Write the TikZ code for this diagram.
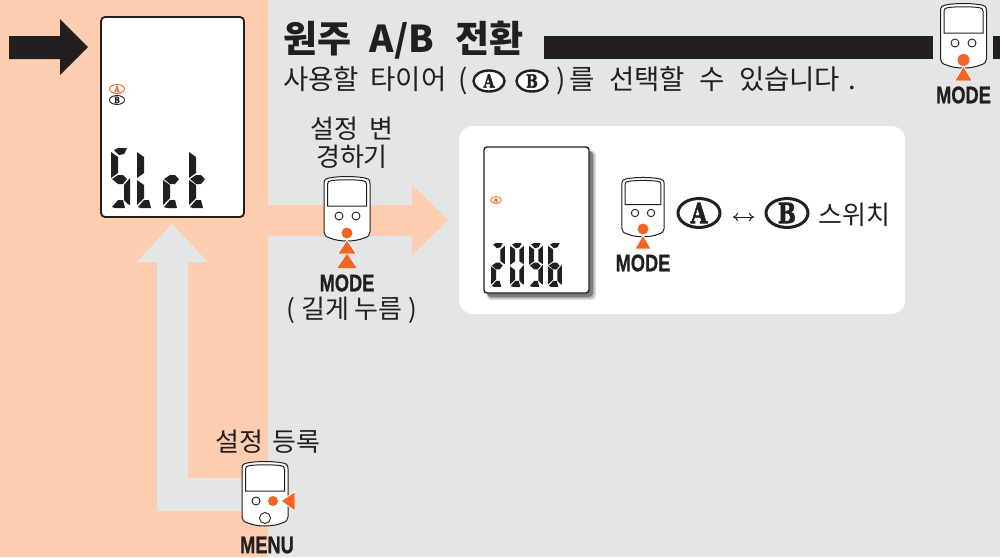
\documentclass[tikz,border=0pt]{standalone}
\usepackage{fontspec}
\usepackage{graphicx}
\usetikzlibrary{shapes.geometric,arrows.meta}
\setmainfont{Noto Sans CJK KR}
\newfontfamily\modefont[BoldFeatures={FakeBold=1}]{Liberation Sans}
\newfontfamily\ovalfont[BoldFeatures={FakeBold=2.5}]{DejaVu Serif}
\definecolor{bgorange}{HTML}{FDCDB0}
\definecolor{bggray}{HTML}{E3E5E7}
\definecolor{ink}{HTML}{231F20}
\definecolor{accent}{HTML}{F26522}
\newcommand\cond[1]{\scalebox{.76}[1]{#1}}
\newcommand\ovl[1]{\scalebox{.82}[1.08]{#1}}
\newcommand\segA{\fill (3,2)--(7,0)--(16,0)--(13,6)--(8,7)--cycle;}
\newcommand\segB{\fill (19,4)--(13,9)--(13,25)--(19,29)--cycle;}
\newcommand\segC{\fill (19,30)--(13,37)--(13,52)--(17,56)--(19,57)--cycle;}
\newcommand\segD{\fill (1,59)--(7,52)--(12,52)--(14,60)--(4,60)--cycle;}
\newcommand\segE{\fill (0,32)--(7,37)--(7,50)--(0,57)--cycle;}
\newcommand\segF{\fill (0,4)--(7,9)--(7,25)--(0,30)--cycle;}
\newcommand\segG{\fill (1,31)--(7,27)--(12,27)--(16,31)--(12,36)--(7,36)--cycle;}
\newcommand\digit[4]{\begin{scope}[shift={(#1,#2)},scale=#3,ink]#4\end{scope}}
\newcommand\device[3]{%
\begin{scope}[shift={(#1,#2)},scale=#3]
\draw[devline,fill=white] (-23,8) .. controls (-23,3) and (-21,2.5) .. (-18,2) .. controls (-8,0) and (8,0) .. (18,2) .. controls (21,2.5) and (23,3) .. (23,8) -- (23,56) .. controls (23,59) and (21,61) .. (17,62) .. controls (8,66) and (-8,66) .. (-17,62) .. controls (-21,61) and (-23,59) .. (-23,56) -- cycle;
\draw[devline,fill=white] (-19.5,30) -- (-19.5,8) .. controls (-19.5,5.5) and (-18,5) .. (-15,4.5) .. controls (-5,3.5) and (5,3.5) .. (15,4.5) .. controls (18,5) and (19.5,5.5) .. (19.5,8) -- (19.5,30) -- cycle;
\end{scope}}
\tikzset{
 devline/.style={draw=ink,line width=1pt},
 hole/.style={draw=ink,line width=.9pt,fill=white},
 press/.style={fill=accent},
 tri/.style={fill=accent,draw=white,line width=.8pt},
 label/.style={text=ink,font=\fontsize{26}{30}\selectfont,inner sep=0pt},
 sublabel/.style={text=ink,font=\fontsize{27.5}{32}\selectfont,inner sep=0pt},
 keyname/.style={text=ink,font=\modefont\bfseries\fontsize{24}{28}\selectfont,inner sep=0pt},
 oval/.style={ellipse,draw=ink,fill=white,inner sep=0pt,text=ink},
}
\begin{document}
\begin{tikzpicture}[x=1pt,y=-1pt]
\useasboundingbox (0,0) rectangle (1000,557);
\fill[bggray] (0,0) rectangle (1000,557);
\fill[bgorange] (0,0) rectangle (268,557);
% gray return arrow
\fill[bggray] (157,511)--(157,262)--(137,262)--(172,224)--(208,262)--(188,262)--(188,478)--(250,478)--(250,511)--cycle;
% orange forward arrow
\fill[bgorange] (268,205)--(412,205)--(412,185)--(448,220)--(412,255)--(412,236)--(268,236)--cycle;
% black arrow and bars
\fill[ink] (9,36)--(60,36)--(60,19)--(88,47)--(60,75)--(60,59)--(9,59)--cycle;
\fill[ink] (544,36) rectangle (933,59);
\fill[ink] (993,36) rectangle (1000,59);
% left display
\draw[draw=ink,line width=1.8pt,fill=white,rounded corners=4pt] (101,17) rectangle (244,217);
\node[oval,draw=accent,text=accent,line width=.9pt,minimum width=15pt,minimum height=9pt,font=\ovalfont\bfseries\fontsize{8}{8}\selectfont] (smallA) at (117,89) {\ovl{A}};
\node[oval,line width=.9pt,minimum width=15pt,minimum height=9pt,font=\ovalfont\bfseries\fontsize{8}{8}\selectfont] (smallB) at (117,100) {\ovl{B}};
\digit{111}{148}{1}{\segA\segF\segG\segC\segD}
\digit{137}{148}{1}{\segF\segE\segD}
\digit{163}{148}{1}{\segG\segE\segD}
\digit{189}{148}{1}{\segF\segG\segE\segD}
% title
\node[anchor=west,text=ink,inner sep=0pt,font=\bfseries\fontsize{37}{42}\selectfont] (title) at (283,40) {원주\hspace{.5em}A/B\hspace{.58em}전환};
\node[sublabel,anchor=west] (sub1) at (283,81) {\spaceskip=.42em\relax 사용할 타이어 (};
\node[oval,line width=2.4pt,minimum width=31pt,minimum height=21pt,font=\ovalfont\bfseries\fontsize{17}{17}\selectfont] (subA) at (489,81) {\ovl{A}};
\node[oval,line width=2.4pt,minimum width=31pt,minimum height=21pt,font=\ovalfont\bfseries\fontsize{17}{17}\selectfont] (subB) at (532,81) {\ovl{B}};
\node[sublabel,anchor=west] (sub2) at (556,81) {\spaceskip=.52em\relax )\hspace{.15em}를 선택할 수 있습니다\hspace{.3em}.};
% top-right device
\device{963.5}{3}{1}
\draw[hole] (955,43) circle (4);
\draw[hole] (972,43) circle (4);
\fill[press] (963.5,60) circle (6);
\draw[tri] (963.5,66)--(972.5,81)--(954.5,81)--cycle;
\node[keyname] (modeA) at (963.5,95) {\cond{MODE}};
% labels over forward arrow
\node[label] (change1) at (352,129) {\spaceskip=.4em\relax 설정 변};
\node[label] (change2) at (352,157) {경하기};
\device{347}{176}{1}
\draw[hole] (339,216) circle (4);
\draw[hole] (356,216) circle (4);
\fill[press] (347,233) circle (5.5);
\draw[tri] (347,240)--(356.5,254)--(337.5,254)--cycle;
\fill[press] (347,254)--(356.5,268)--(337.5,268)--cycle;
\node[keyname] (modeB) at (347,283) {\cond{MODE}};
\node[label] (long) at (352,310) {( 길게 누름 )};
% white panel
\fill[white,rounded corners=14pt] (459,126) rectangle (905,314);
\foreach \o/\a in {7/.12,5.5/.2,4/.3}{\fill[black,opacity=\a,rounded corners=4pt] (487,151) rectangle (589+\o,293+\o);}
\draw[draw=ink,line width=1.4pt,fill=white,rounded corners=3pt] (484,147) rectangle (589,293);
\node[oval,draw=accent,text=accent,line width=.8pt,minimum width=11pt,minimum height=7pt,font=\ovalfont\bfseries\fontsize{6}{6}\selectfont] (tinyA) at (496,200) {\ovl{A}};
\digit{491}{243}{.73}{\segA\segB\segG\segE\segD}
\digit{510}{243}{.73}{\segA\segB\segC\segD\segE\segF}
\digit{529}{243}{.73}{\segA\segB\segC\segD\segF\segG}
\digit{548}{243}{.73}{\segA\segC\segD\segE\segF\segG}
% panel device
\device{643}{177}{.92}
\draw[hole] (635,213) circle (3.7);
\draw[hole] (651,213) circle (3.7);
\fill[press] (643,229) circle (5.5);
\draw[tri] (643,235)--(651,249)--(635,249)--cycle;
\node[keyname] (modeC) at (643,263) {\cond{MODE}};
\node[oval,line width=3pt,minimum width=42pt,minimum height=27pt,font=\ovalfont\bfseries\fontsize{26}{26}\selectfont] (bigA) at (699,213) {\ovl{A}};
\node[oval,line width=3pt,minimum width=42pt,minimum height=27pt,font=\ovalfont\bfseries\fontsize{26}{26}\selectfont] (bigB) at (787,213) {\ovl{B}};
\coordinate (swL) at (733,217);
\coordinate (swR) at (754,217);
\draw[ink,line width=1pt,{To[length=5pt,width=8pt]}-{To[length=5pt,width=8pt]}] (swL) -- (swR);
\node[label,anchor=west] (sw) at (818,215) {스위치};
% bottom device
\node[label] (reg) at (268,442) {\spaceskip=.35em\relax 설정 등록};
\device{265}{461}{1}
\draw[hole] (256,501) circle (4);
\fill[press] (273,501) circle (5);
\draw[tri] (281,501)--(295,491.5)--(295,511)--cycle;
\draw[hole] (265,518) circle (5.5);
\node[keyname] (menu) at (267,545) {\cond{MENU}};
\end{tikzpicture}
\end{document}
